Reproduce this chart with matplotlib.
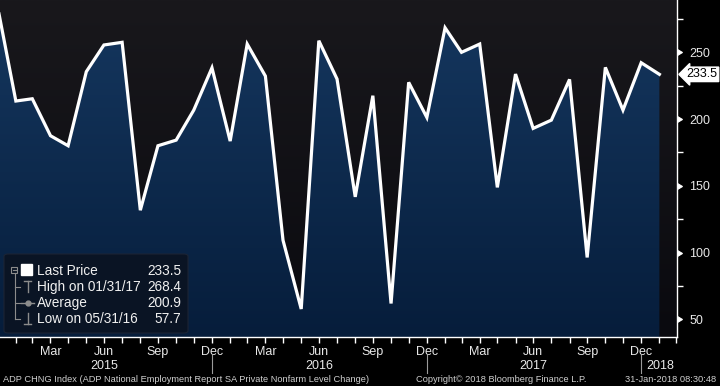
import matplotlib
matplotlib.use('Agg')
import matplotlib.pyplot as plt
import matplotlib.dates as mdates
from matplotlib import markers
from matplotlib.colors import LinearSegmentedColormap
from matplotlib.patches import FancyBboxPatch, Rectangle
from matplotlib.lines import Line2D
import numpy as np
import pandas as pd

# monthly ADP change, Dec 2014 .. Jan 2018 (thousands)
months = pd.date_range('2014-12-31', periods=38, freq='ME')
adp_chng = [284.0, 213.5, 215.2, 187.5, 180.0, 235.5, 255.5, 257.5, 131.7, 180.0,
            184.2, 206.7, 238.4, 183.5, 256.2, 232.2, 109.2, 57.7, 258.7, 230.0,
            141.7, 217.5, 61.8, 227.5, 201.2, 268.4, 250.0, 256.2, 148.8, 233.7,
            193.0, 199.2, 229.7, 96.3, 238.7, 206.7, 242.2, 233.5]
last_price = 233.5
high_val, high_date = 268.4, '01/31/17'
avg_val = 200.9
low_val, low_date = 57.7, '05/31/16'
y_major = [50, 100, 150, 200, 250]
y_minor = [75, 125, 175, 225, 275]
year_labels = ['2015', '2016', '2017']

plt.rcParams['font.family'] = ['Liberation Sans', 'DejaVu Sans']

W, H = 720, 386
fig = plt.figure(figsize=(7.2, 3.86), dpi=100, facecolor='black')
ax = fig.add_axes([0, 1 - 337 / H, 677 / W, 337 / H])

def fx(x):
    return x / W

def fy(y):
    return 1 - y / H

xs = mdates.date2num(months)
x0, x1 = mdates.date2num(pd.Timestamp('2015-01-04')), mdates.date2num(pd.Timestamp('2018-03-02'))
y0, y1 = 36.7, 289.2

# background gradient
bg_cmap = LinearSegmentedColormap.from_list('bg', ['#0a0a0f', '#19181c'])
ax.imshow(np.linspace(0, 1, 256).reshape(-1, 1), cmap=bg_cmap, origin='lower',
          extent=[0, 1, 0, 1], transform=ax.transAxes, aspect='auto', zorder=0)

# area fill with gradient
poly = ax.fill_between(xs, adp_chng, y0 - 20, facecolor='none', edgecolor='none')
fill_cmap = LinearSegmentedColormap.from_list('fill', ['#061d3b', '#15375f'])
im = ax.imshow(np.linspace(0, 1, 256).reshape(-1, 1), cmap=fill_cmap, origin='lower',
               extent=[xs[0], xs[-1], y0, max(adp_chng)], aspect='auto', zorder=1)
im.set_clip_path(poly.get_paths()[0], transform=ax.transData)

ax.plot(xs, adp_chng, color='white', lw=2.3, solid_joinstyle='miter', zorder=3)

ax.set_xlim(x0, x1)
ax.set_ylim(y0, y1)

for s in ['top', 'left']:
    ax.spines[s].set_visible(False)
for s in ['right', 'bottom']:
    ax.spines[s].set_color('white')
    ax.spines[s].set_linewidth(1.0)

# y axis on the right
ax.yaxis.tick_right()
ax.set_yticks(y_major)
ax.set_yticklabels([str(v) for v in y_major])
ax.set_yticks(y_minor, minor=True)
ax.tick_params(axis='y', which='major', colors='#e8e8e8', labelsize=9, length=0, pad=9)
ax.tick_params(axis='y', which='minor', color='white', length=4, width=1, direction='out')
for t in ax.yaxis.get_major_ticks():
    t.tick2line.set_marker(markers.CARETRIGHTBASE)
    t.tick2line.set_markersize(5)
    t.tick2line.set_markerfacecolor('white')
    t.tick2line.set_markeredgecolor('white')

# x axis month ticks
tick_dates = list(pd.date_range('2015-01-31', '2018-02-28', freq='ME'))
ax.set_xticks(mdates.date2num(tick_dates))
ax.set_xticklabels([d.strftime('%b') if d.month in (3, 6, 9, 12) else '' for d in tick_dates])
ax.tick_params(axis='x', colors='white', labelcolor='#e8e8e8', labelsize=9,
               length=4, width=1, direction='out', pad=2.5)

xtr = ax.get_xaxis_transform()
for yr in year_labels:
    ax.text(mdates.date2num(pd.Timestamp(yr + '-06-30')), -0.087, yr, transform=xtr,
            ha='center', va='center', color='#e8e8e8', fontsize=9, clip_on=False)
for yr in ['2015', '2016', '2017']:
    xd = mdates.date2num(pd.Timestamp(yr + '-12-31'))
    ax.plot([xd, xd], [-0.053, -0.108], transform=xtr, color='#9a9a9a', lw=0.8, clip_on=False)
ax.annotate('2018', xy=(mdates.date2num(pd.Timestamp('2017-12-31')), -0.087), xycoords=xtr,
            xytext=(4, 0), textcoords='offset points', ha='left', va='center',
            color='#e8e8e8', fontsize=9, annotation_clip=False)

# last price tag
ax.text(1.014, last_price, f'{last_price:.1f}', transform=ax.get_yaxis_transform(),
        ha='left', va='center', fontsize=9, color='black', clip_on=False,
        bbox=dict(boxstyle='larrow,pad=0.1', fc='white', ec='white'))

# legend box
fig.add_artist(FancyBboxPatch((fx(4), fy(333)), fx(184), 79 / H,
                              boxstyle='round,pad=0,rounding_size=0.006',
                              transform=fig.transFigure, fc='#0a1424', ec='#1c2434', lw=0.8))
grey = '#8c8c8c'
fig.add_artist(Rectangle((fx(11), fy(273)), fx(6), 6 / H, transform=fig.transFigure,
                         fc='none', ec=grey, lw=0.8))
fig.add_artist(Line2D([fx(12.5), fx(15.5)], [fy(270), fy(270)], transform=fig.transFigure, color=grey, lw=0.8))
fig.add_artist(Rectangle((fx(21), fy(275)), fx(11), 11 / H, transform=fig.transFigure,
                         fc='white', ec='white'))
fig.add_artist(Line2D([fx(14.5), fx(14.5)], [fy(273), fy(319)], transform=fig.transFigure, color=grey, lw=0.8))
for yy in (286.7, 302.7, 319):
    fig.add_artist(Line2D([fx(14.5), fx(20)], [fy(yy), fy(yy)], transform=fig.transFigure, color=grey, lw=0.8))
# high symbol
fig.add_artist(Line2D([fx(24), fx(31)], [fy(281), fy(281)], transform=fig.transFigure, color=grey, lw=1))
fig.add_artist(Line2D([fx(27.5), fx(27.5)], [fy(281), fy(292)], transform=fig.transFigure, color=grey, lw=1))
# average symbol
fig.add_artist(Line2D([fx(21), fx(34)], [fy(302.7), fy(302.7)], transform=fig.transFigure, color=grey, lw=1))
fig.add_artist(Line2D([fx(27.5)], [fy(302.7)], transform=fig.transFigure, color=grey, marker='o', ms=3.5))
# low symbol
fig.add_artist(Line2D([fx(27.5), fx(27.5)], [fy(313), fy(324)], transform=fig.transFigure, color=grey, lw=1))
fig.add_artist(Line2D([fx(24), fx(31)], [fy(324), fy(324)], transform=fig.transFigure, color=grey, lw=1))

rows = [('Last Price', last_price, 270.7),
        ('High on ' + high_date, high_val, 286.7),
        ('Average', avg_val, 302.7),
        ('Low on ' + low_date, low_val, 319)]
for lab, val, yy in rows:
    fig.text(fx(37), fy(yy), lab, ha='left', va='center', color='#f0f0f0', fontsize=9.8)
    fig.text(fx(181), fy(yy), f'{val:.1f}', ha='right', va='center', color='#f0f0f0', fontsize=9.8)

# footer
fig.text(fx(3), fy(379), 'ADP CHNG Index (ADP National Employment Report SA Private Nonfarm Level Change)',
         ha='left', va='center', color='#cfcfcf', fontsize=6.7)
fig.text(fx(501), fy(379), 'Copyright\u00a9 2018 Bloomberg Finance L.P.',
         ha='center', va='center', color='#cfcfcf', fontsize=6.7)
fig.text(fx(716), fy(379), '31-Jan-2018 08:30:48',
         ha='right', va='center', color='#cfcfcf', fontsize=6.7)

fig.savefig('out.png', dpi=100, facecolor='black')
